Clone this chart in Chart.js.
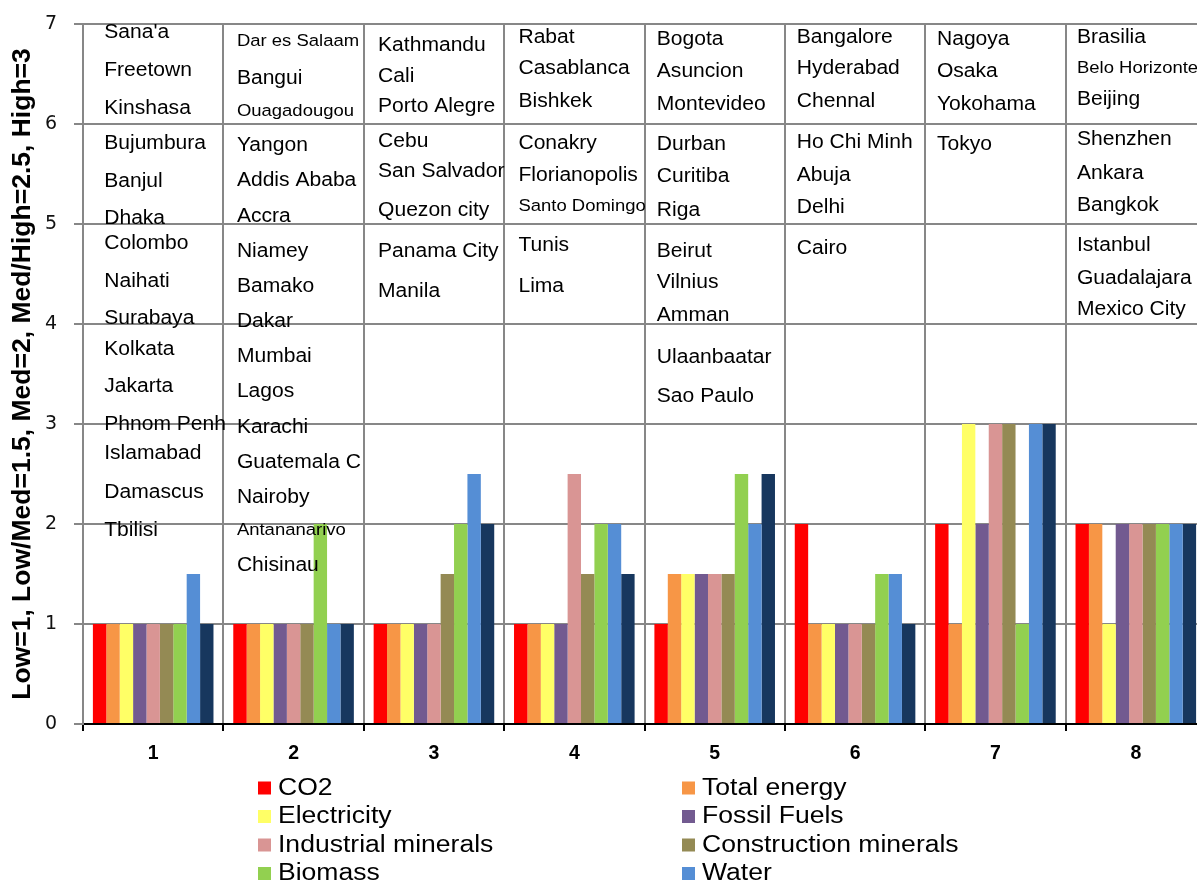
<!DOCTYPE html>
<html>
<head>
<meta charset="utf-8">
<script src="https://cdn.jsdelivr.net/npm/chart.js@4.4.1/dist/chart.umd.min.js"></script>
<style>
  html, body { margin: 0; padding: 0; background: #fff; overflow: hidden; }
  #wrap { position: absolute; left: 0; top: 0; width: 1206px; height: 881px; }
</style>
</head>
<body>
<div id="wrap"><canvas id="chart" width="1206" height="881"></canvas></div>
<script>
// City clusters 1..8 and their ratings (Low=1 ... High=3)
const groups = ['1', '2', '3', '4', '5', '6', '7', '8'];
const co2                  = [1,   1, 1,   1,   1,   2,   2, 2];
const totalEnergy          = [1,   1, 1,   1,   1.5, 1,   1, 2];
const electricity          = [1,   1, 1,   1,   1.5, 1,   3, 1];
const fossilFuels          = [1,   1, 1,   1,   1.5, 1,   2, 2];
const industrialMinerals   = [1,   1, 1,   2.5, 1.5, 1,   3, 2];
const constructionMinerals = [1,   1, 1.5, 1.5, 1.5, 1,   3, 2];
const biomass              = [1,   2, 2,   2,   2.5, 1.5, 1, 2];
const water                = [1.5, 1, 2.5, 2,   2,   1.5, 3, 2];
const ninthIndicator       = [1,   1, 2,   1.5, 2.5, 1,   3, 2];

// Cities belonging to each cluster
const cities1 = ["Sana'a", 'Freetown', 'Kinshasa', 'Bujumbura', 'Banjul', 'Dhaka', 'Colombo', 'Naihati', 'Surabaya', 'Kolkata', 'Jakarta', 'Phnom Penh', 'Islamabad', 'Damascus', 'Tbilisi'];
const cities2 = ['Dar es Salaam', 'Bangui', 'Ouagadougou', 'Yangon', 'Addis Ababa', 'Accra', 'Niamey', 'Bamako', 'Dakar', 'Mumbai', 'Lagos', 'Karachi', 'Guatemala C', 'Nairoby', 'Antananarivo', 'Chisinau'];
const cities3 = ['Kathmandu', 'Cali', 'Porto Alegre', 'Cebu', 'San Salvador', 'Quezon city', 'Panama City', 'Manila'];
const cities4 = ['Rabat', 'Casablanca', 'Bishkek', 'Conakry', 'Florianopolis', 'Santo Domingo', 'Tunis', 'Lima'];
const cities5 = ['Bogota', 'Asuncion', 'Montevideo', 'Durban', 'Curitiba', 'Riga', 'Beirut', 'Vilnius', 'Amman', 'Ulaanbaatar', 'Sao Paulo'];
const cities6 = ['Bangalore', 'Hyderabad', 'Chennal', 'Ho Chi Minh', 'Abuja', 'Delhi', 'Cairo'];
const cities7 = ['Nagoya', 'Osaka', 'Yokohama', 'Tokyo'];
const cities8 = ['Brasilia', 'Belo Horizonte', 'Beijing', 'Shenzhen', 'Ankara', 'Bangkok', 'Istanbul', 'Guadalajara', 'Mexico City'];
const cityLists = [cities1, cities2, cities3, cities4, cities5, cities6, cities7, cities8];

// Layout of the city names: vertical slot (in y-axis units) for each name
const cityRows = [
  [6.94, 6.56, 6.18, 5.83, 5.45, 5.08, 4.83, 4.45, 4.08, 3.77, 3.40, 3.02, 2.73, 2.34, 1.96],
  [6.85, 6.48, 6.15, 5.81, 5.46, 5.10, 4.75, 4.40, 4.05, 3.70, 3.35, 2.99, 2.64, 2.29, 1.96, 1.61],
  [6.81, 6.50, 6.20, 5.85, 5.55, 5.16, 4.75, 4.35],
  [6.89, 6.58, 6.25, 5.83, 5.51, 5.20, 4.81, 4.40],
  [6.87, 6.55, 6.22, 5.82, 5.50, 5.16, 4.75, 4.44, 4.11, 3.69, 3.30],
  [6.89, 6.58, 6.25, 5.84, 5.51, 5.19, 4.78],
  [6.87, 6.55, 6.22, 5.82],
  [6.89, 6.58, 6.27, 5.87, 5.53, 5.21, 4.81, 4.48, 4.17]
];
const cityIndent = [21.2, 13.5, 14.3, 14.3, 12.3, 11.9, 11.7, 11.3];
const smallNames = new Set(['Dar es Salaam', 'Ouagadougou', 'Antananarivo', 'Santo Domingo', 'Belo Horizonte']);

const TEXT_FONT = '"Liberation Sans", Arial, sans-serif';
const X_STRETCH = 1.075;
const GRID = '#878787';
const TEXT_DROP = 2.5; // optical centring of the names on their slot

function stretchedText(ctx, text, x, y, stretch) {
  ctx.save();
  ctx.translate(x, y);
  ctx.scale(stretch, 1);
  ctx.fillText(text, 0, 0);
  ctx.restore();
}

// Draws the city names inside each cluster column
const cityLabels = {
  id: 'cityLabels',
  afterDatasetsDraw(chart) {
    const { ctx, scales: { x, y } } = chart;
    const colW = (x.right - x.left) / groups.length;
    ctx.save();
    ctx.fillStyle = '#000';
    ctx.textAlign = 'left';
    ctx.textBaseline = 'middle';
    cityLists.forEach((list, gi) => {
      const left = x.left + gi * colW + cityIndent[gi];
      list.forEach((name, ci) => {
        const size = smallNames.has(name) ? 17.2 : 19.6;
        ctx.font = size + 'px ' + TEXT_FONT;
        stretchedText(ctx, name, left, y.getPixelForValue(cityRows[gi][ci]) + TEXT_DROP, X_STRETCH);
      });
    });
    ctx.restore();
  }
};

// Two-column legend under the axis
const twoColumnLegend = {
  id: 'twoColumnLegend',
  afterDraw(chart) {
    const { ctx } = chart;
    const items = chart.data.datasets.filter(d => d.label);
    const colX = [258, 682];
    const rowY = [788, 816.5, 845, 873.5];
    ctx.save();
    ctx.font = '24.7px ' + TEXT_FONT;
    ctx.textAlign = 'left';
    ctx.textBaseline = 'middle';
    items.forEach((d, i) => {
      const cx = colX[i % 2];
      const cy = rowY[Math.floor(i / 2)];
      ctx.fillStyle = d.backgroundColor;
      ctx.fillRect(cx, cy - 6.5, 13, 13);
      ctx.fillStyle = '#000';
      stretchedText(ctx, d.label, cx + 20, cy, X_STRETCH);
    });
    ctx.restore();
  }
};

const series = [
  { label: 'CO2', data: co2, color: '#FF0000' },
  { label: 'Total energy', data: totalEnergy, color: '#F79646' },
  { label: 'Electricity', data: electricity, color: '#FFFF66' },
  { label: 'Fossil Fuels', data: fossilFuels, color: '#725A90' },
  { label: 'Industrial minerals', data: industrialMinerals, color: '#D99594' },
  { label: 'Construction minerals', data: constructionMinerals, color: '#948A54' },
  { label: 'Biomass', data: biomass, color: '#92D050' },
  { label: 'Water', data: water, color: '#558ED5' },
  { label: '', data: ninthIndicator, color: '#17375E' }
];

new Chart(document.getElementById('chart'), {
  type: 'bar',
  data: {
    labels: groups,
    datasets: series.map(s => ({
      label: s.label,
      data: s.data,
      backgroundColor: s.color,
      borderWidth: 0,
      categoryPercentage: 0.859,
      barPercentage: 1.0
    }))
  },
  options: {
    responsive: false,
    devicePixelRatio: 1,
    animation: false,
    layout: { padding: { top: 24, right: 0, bottom: 117, left: 0 } },
    plugins: {
      legend: { display: false },
      tooltip: { enabled: false }
    },
    scales: {
      x: {
        ticks: {
          color: '#000',
          font: { family: TEXT_FONT, weight: 'bold', size: 19.5 },
          padding: 11
        },
        grid: { color: GRID, lineWidth: 2, tickLength: 7, tickColor: '#000', offset: true },
        border: { color: '#000', width: 2 },
        afterFit(scale) {
          scale.height = 40;
          scale.paddingLeft = 0;
          scale.paddingRight = 0;
        }
      },
      y: {
        min: 0,
        max: 7,
        ticks: {
          stepSize: 1,
          color: '#111',
          font: { family: '"DejaVu Sans", sans-serif', size: 19 },
          padding: 17
        },
        grid: { color: GRID, lineWidth: 2, tickLength: 9, tickColor: GRID },
        border: { color: GRID, width: 2 },
        title: {
          display: true,
          text: 'Low=1, Low/Med=1.5, Med=2, Med/High=2.5, High=3',
          color: '#000',
          font: { family: TEXT_FONT, weight: 'bold', size: 26.5 },
          padding: { top: 7, bottom: 0 }
        },
        afterFit(scale) {
          scale.width = 83;
          scale.paddingTop = 0;
          scale.paddingBottom = 0;
        }
      }
    }
  },
  plugins: [cityLabels, twoColumnLegend]
});
</script>
</body>
</html>
